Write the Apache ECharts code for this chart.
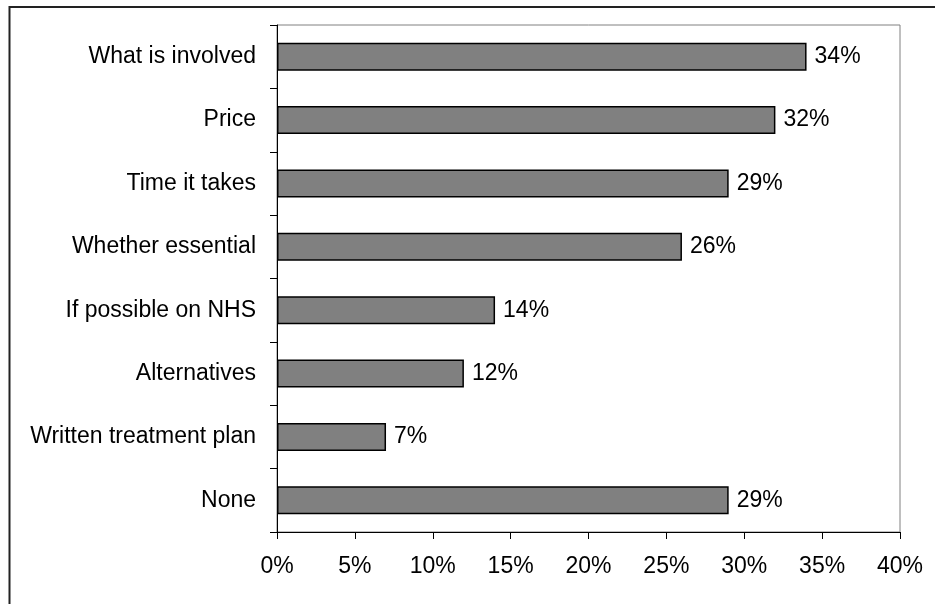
<!DOCTYPE html>
<html>
<head>
<meta charset="utf-8">
<script src="https://cdn.jsdelivr.net/npm/echarts@6/dist/echarts.min.js"></script>
<style>
  html, body { margin: 0; padding: 0; background: #fff; }
  #chart { width: 935px; height: 604px; }
</style>
</head>
<body>
<div id="chart"></div>
<script>
// Information patients were given before treatment (share of respondents)
const categories = [
  'What is involved',
  'Price',
  'Time it takes',
  'Whether essential',
  'If possible on NHS',
  'Alternatives',
  'Written treatment plan',
  'None'
];
const values = [34, 32, 29, 26, 14, 12, 7, 29];
const xTicks = [0, 5, 10, 15, 20, 25, 30, 35, 40];

const font = 'Liberation Sans, Arial, sans-serif';
const chart = echarts.init(document.getElementById('chart'));

chart.setOption({
  animation: false,
  backgroundColor: '#fff',
  graphic: [{
    type: 'rect',
    shape: { x: 9.5, y: 7, width: 1000, height: 1000 },
    style: { fill: 'none', stroke: '#222', lineWidth: 2 },
    silent: true
  }],
  grid: {
    left: 277, top: 25, right: 35, bottom: 72,
    show: true, borderColor: '#808080', borderWidth: 1, backgroundColor: 'transparent'
  },
  xAxis: {
    type: 'value',
    min: xTicks[0], max: xTicks[xTicks.length - 1], interval: 5,
    axisLine: { show: true, lineStyle: { color: '#000', width: 1 } },
    axisTick: { show: true, length: 7, lineStyle: { color: '#000' } },
    splitLine: { show: false },
    axisLabel: {
      margin: 23, color: '#000', fontFamily: font, fontSize: 23,
      formatter: v => v + '%'
    }
  },
  yAxis: {
    type: 'category',
    inverse: true,
    data: categories,
    axisLine: { show: true, lineStyle: { color: '#000', width: 1 } },
    axisTick: { show: true, length: 7, lineStyle: { color: '#000' } },
    axisLabel: { margin: 21, color: '#000', fontFamily: font, fontSize: 23 }
  },
  series: [{
    type: 'bar',
    data: values,
    barWidth: 28,
    itemStyle: { color: '#808080', borderColor: '#000', borderWidth: 1.5 },
    label: {
      show: true, position: 'right', distance: 8,
      color: '#000', fontFamily: font, fontSize: 23,
      formatter: p => p.value + '%'
    }
  }]
});
</script>
</body>
</html>
